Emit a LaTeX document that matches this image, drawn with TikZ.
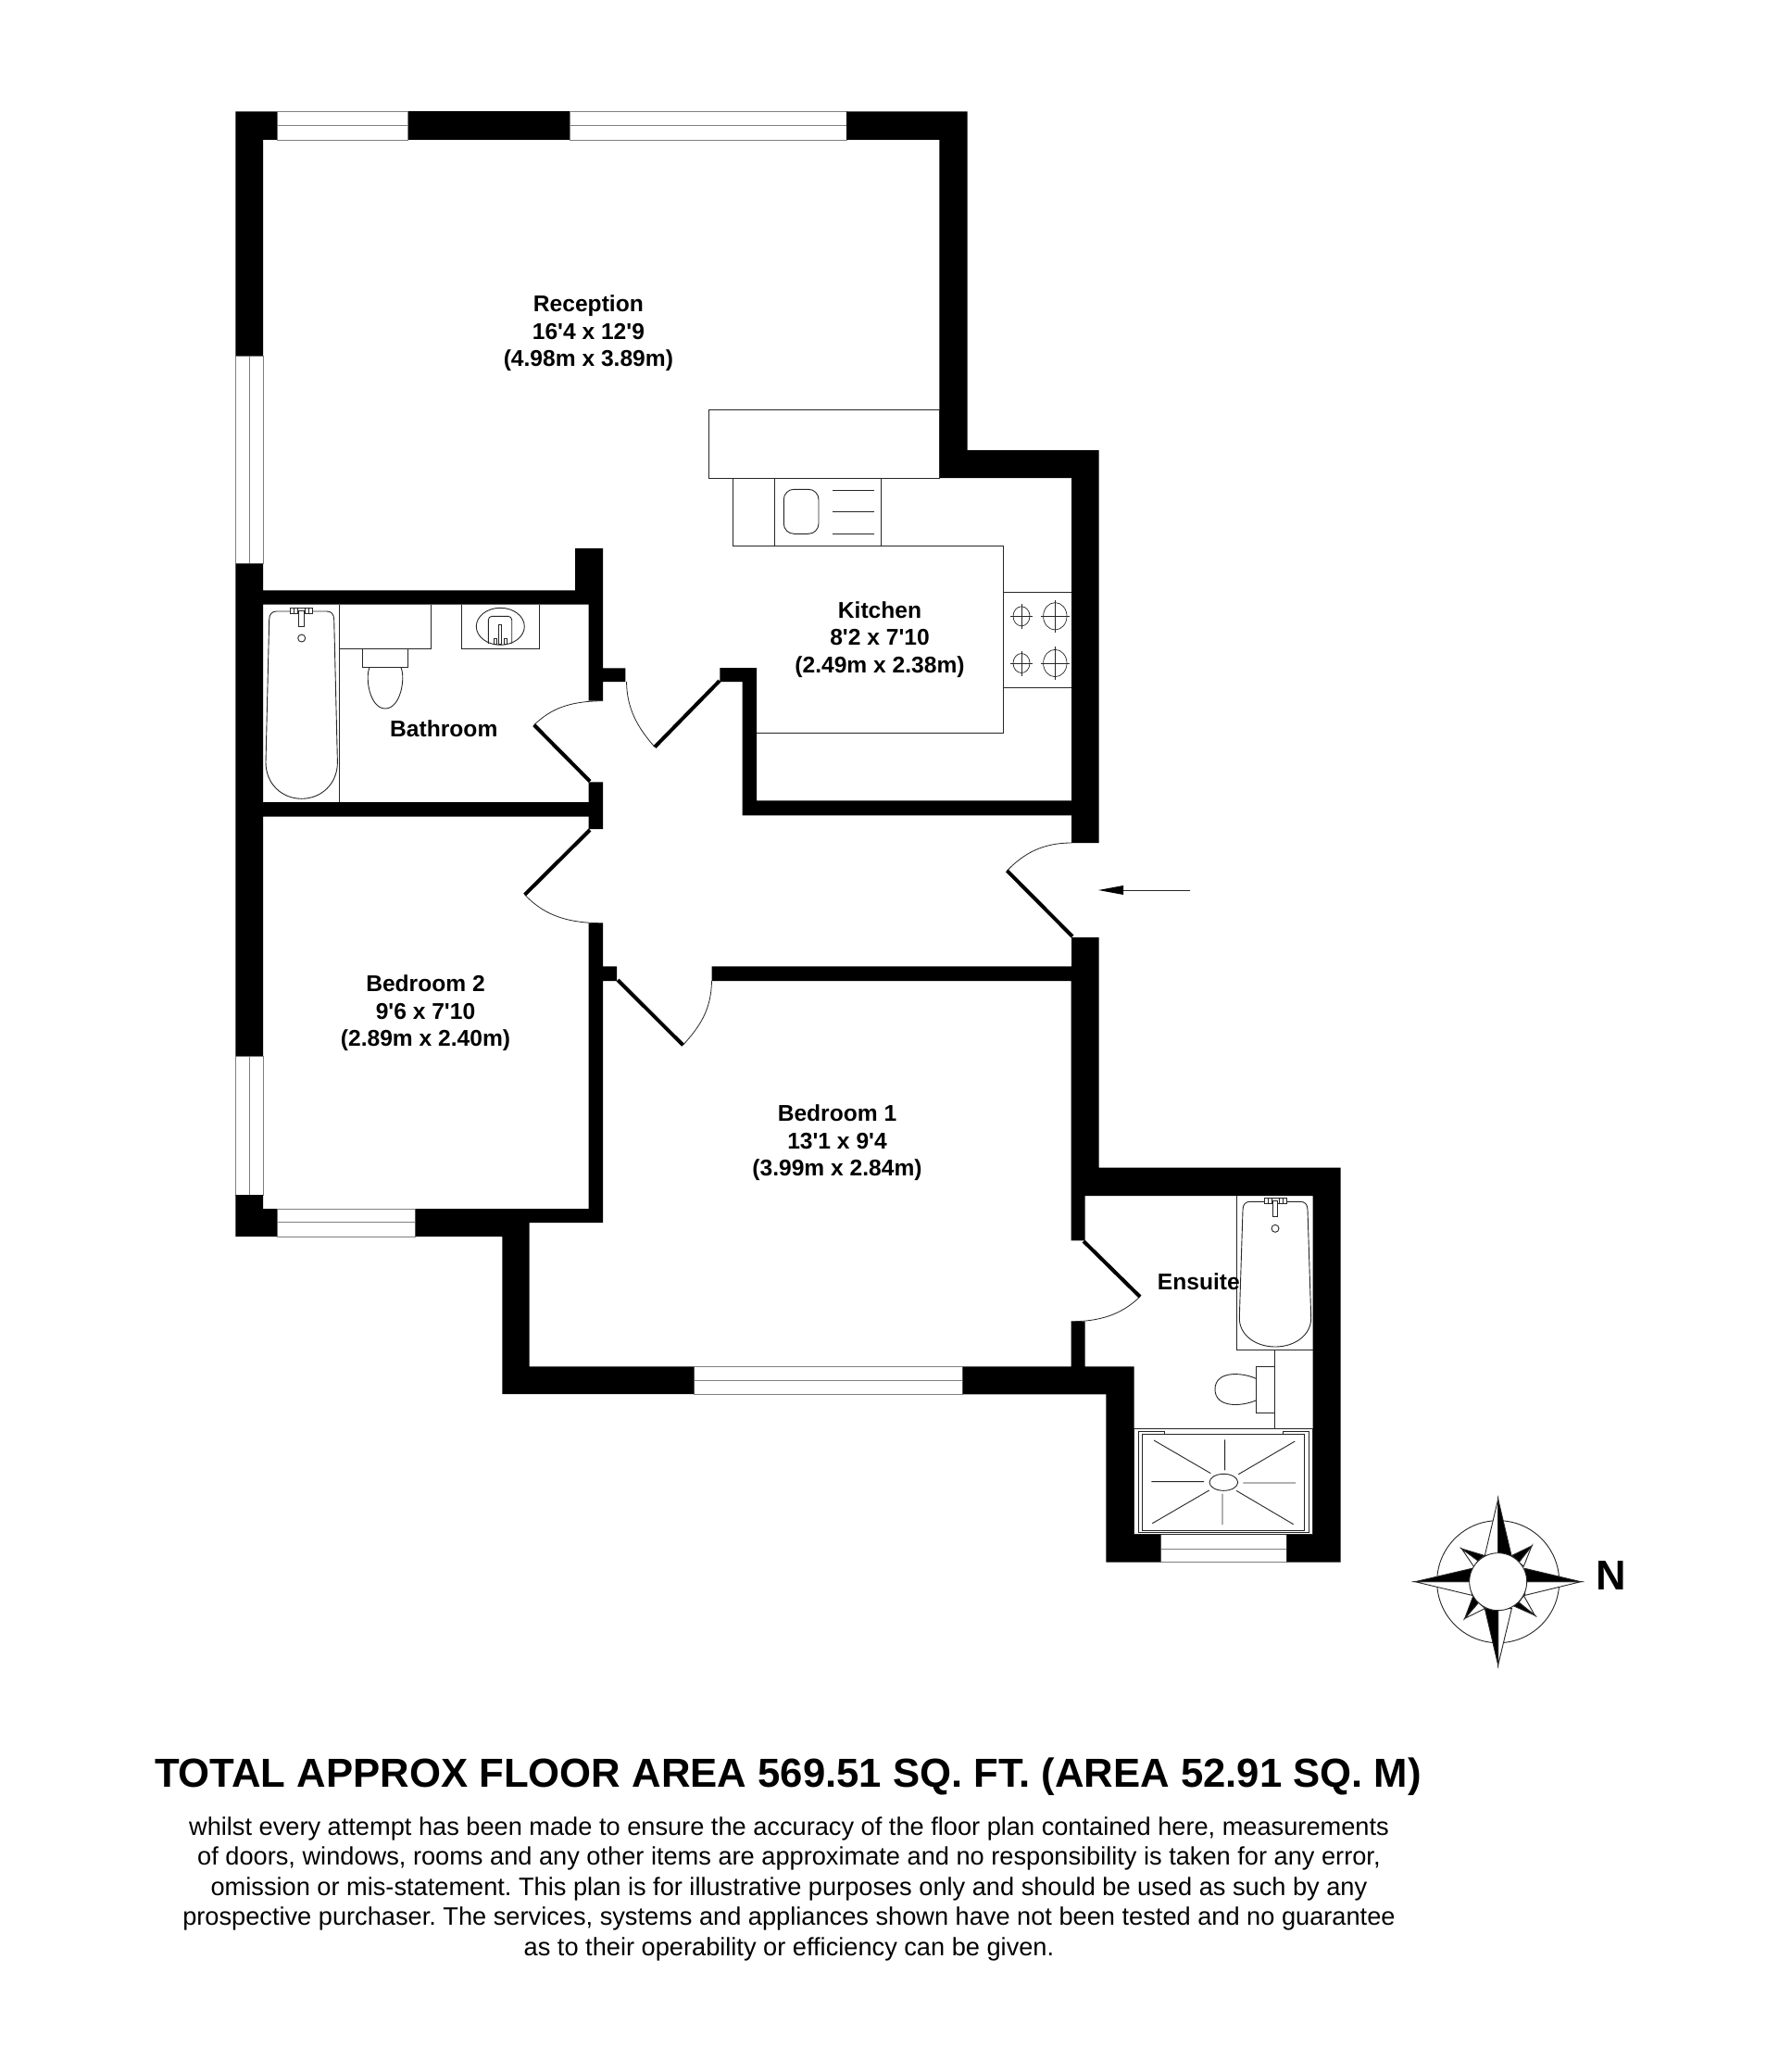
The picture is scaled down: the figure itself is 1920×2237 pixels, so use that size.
\documentclass[tikz,border=0pt]{standalone}
\usepackage{fontspec}
\setmainfont[Ligatures=TeXOff]{Liberation Sans}
\frenchspacing
\tikzset{
  wall/.style={fill=black,draw=none},
  fix/.style={draw=black!85,line width=0.9pt},
  win/.style={fill=white,draw=black!50,line width=0.9pt},
  leaf/.style={draw=black,line width=4pt},
  swing/.style={draw=black!85,line width=0.8pt},
  label/.style={align=center,inner sep=0pt,font=\fontsize{24.6}{29.5}\selectfont\bfseries},
}
\newcommand{\tubfix}[4]{% cx, top, waist, bottom
  \draw[fix] ({#1-27},#2) -- ({#1+27},#2) .. controls ({#1+32},#2) and ({#1+35},{#2+3}) .. ({#1+35},{#2+9})
    -- ({#1+38.7},#3) .. controls ({#1+38.7},{#3+0.6*(#4-#3)}) and ({#1+21},#4) .. ({#1},#4)
    .. controls ({#1-21},#4) and ({#1-38.7},{#3+0.6*(#4-#3)}) .. ({#1-38.7},#3)
    -- ({#1-35},{#2+9}) .. controls ({#1-35},{#2+3}) and ({#1-32},#2) .. ({#1-27},#2) -- cycle;
  \draw[fix,fill=white] ({#1-12},{#2-4}) rectangle ({#1+12},{#2+2.5});
  \draw[fix] ({#1-8},{#2-4}) -- ({#1-8},{#2+2.5}) ({#1-4},{#2-4}) -- ({#1-4},{#2+2.5}) ({#1+4},{#2-4}) -- ({#1+4},{#2+2.5}) ({#1+8},{#2-4}) -- ({#1+8},{#2+2.5});
  \draw[fix,fill=white] ({#1-2.8},{#2-1}) rectangle ({#1+2.8},{#2+16});
  \draw[fix] (#1,{#2+29}) circle (4);
}
\newcommand{\burner}[4]{% cx cy rx ry
  \draw[fix,line width=0.7pt] (#1,#2) ellipse ({#3} and {#4});
  \draw[fix,line width=0.7pt] ({#1-#3-3},#2) -- ({#1+#3+3},#2) (#1,{#2-#4-3}) -- (#1,{#2+#4+3});
}
\begin{document}
\begin{tikzpicture}[x=1pt,y=-1pt]
\useasboundingbox[fill=white] (0,0) rectangle (1920,2237);
% windows
\draw[win] (299.2,120.4) rectangle (440.7,151);
\draw[win] (299.2,135.7) -- (440.7,135.7);
\draw[win] (615.2,120.4) rectangle (914,151);
\draw[win] (615.2,135.7) -- (914,135.7);
\draw[win] (254.4,384) rectangle (284,608.5);
\draw[win] (269.3,384) -- (269.3,608.5);
\draw[win] (254.4,1140) rectangle (284,1290);
\draw[win] (269.3,1140) -- (269.3,1290);
\draw[win] (299.2,1305) rectangle (448.6,1335);
\draw[win] (299.2,1319.7) -- (448.6,1319.7);
\draw[win] (749.3,1475.3) rectangle (1039.6,1505);
\draw[win] (749.3,1490) -- (1039.6,1490);
\draw[win] (1253.3,1656.7) rectangle (1389.3,1686.7);
\draw[win] (1253.3,1672.3) -- (1389.3,1672.3);
% walls
\fill[wall] (254.4,120.4) -- (299.2,120.4) -- (299.2,151) -- (284,151) -- (284,384) -- (254.4,384) -- cycle;
\fill[wall] (440.7,120.4) rectangle (615.2,151);
\fill[wall] (914,120.4) -- (1044.5,120.4) -- (1044.5,486) -- (1186.7,486) -- (1186.7,910) -- (1157,910) -- (1157,516) -- (1014.3,516) -- (1014.3,151) -- (914,151) -- cycle;
\fill[wall] (254.4,608.5) -- (284,608.5) -- (284,637.3) -- (621,637.3) -- (621,592) -- (651,592) -- (651,721.3) -- (675.3,721.3) -- (675.3,736) -- (651,736) -- (651,756.7) -- (635.7,756.7) -- (635.7,652.7) -- (284,652.7) -- (284,866) -- (635.7,866) -- (635.7,844.3) -- (651,844.3) -- (651,895) -- (635.7,895) -- (635.7,881.7) -- (284,881.7) -- (284,1140) -- (254.4,1140) -- cycle;
\fill[wall] (254.4,1290) -- (284,1290) -- (284,1305) -- (299.2,1305) -- (299.2,1335) -- (254.4,1335) -- cycle;
\fill[wall] (448.6,1305) -- (635.7,1305) -- (635.7,996.7) -- (651,996.7) -- (651,1043.3) -- (666.2,1043.3) -- (666.2,1059) -- (651,1059) -- (651,1320) -- (571.7,1320) -- (571.7,1475.3) -- (749.3,1475.3) -- (749.3,1505) -- (542.3,1505) -- (542.3,1335) -- (448.6,1335) -- cycle;
\fill[wall] (777.3,721) -- (817,721) -- (817,864.3) -- (1157,864.3) -- (1157,880.3) -- (801.7,880.3) -- (801.7,736) -- (777.3,736) -- cycle;
\fill[wall] (768.5,1043.3) -- (1157,1043.3) -- (1157,1012) -- (1186.7,1012) -- (1186.7,1260.7) -- (1447.7,1260.7) -- (1447.7,1686.7) -- (1389.3,1686.7) -- (1389.3,1656.7) -- (1417.7,1656.7) -- (1417.7,1291) -- (1171.7,1291) -- (1171.7,1339.3) -- (1156.7,1339.3) -- (1156.7,1059) -- (768.5,1059) -- cycle;
\fill[wall] (1156.7,1426.7) -- (1171.7,1426.7) -- (1171.7,1475.3) -- (1224.7,1475.3) -- (1224.7,1656.7) -- (1253.3,1656.7) -- (1253.3,1686.7) -- (1194.3,1686.7) -- (1194.3,1505.3) -- (1039.6,1505.3) -- (1039.6,1475.3) -- (1156.7,1475.3) -- cycle;
% doors
\draw[leaf] (637,843.5) -- (576.7,782.7);
\draw[swing] (576.7,782.7) .. controls (595,765) and (615,757) .. (651,756.7);
\draw[leaf] (637,896) -- (566.6,966);
\draw[swing] (566.6,966) .. controls (585,985) and (607,996.7) .. (651,996.7);
\draw[leaf] (777,735) -- (707,806.5);
\draw[swing] (707,806.5) .. controls (688,785) and (677,765) .. (676.5,736);
\draw[leaf] (667,1058) -- (737.5,1128.3);
\draw[swing] (737.5,1128.3) .. controls (756,1108) and (768,1090) .. (768.5,1059);
\draw[leaf] (1158,1011) -- (1087.4,940);
\draw[swing] (1087.4,940) .. controls (1105,922) and (1125,910) .. (1157,910);
\draw[leaf] (1170,1340) -- (1231,1400);
\draw[swing] (1231,1400) .. controls (1215,1415) and (1195,1426.7) .. (1156.7,1426.7);
% entrance arrow
\coordinate (entryfrom) at (1285,961);
\coordinate (entryto) at (1186,961);
\draw[fix] (entryfrom) -- (1213,961);
\fill[black] (entryto) -- (1213,956) -- (1213,966) -- cycle;
% kitchen fittings
\draw[fix] (765,442.7) rectangle (1014.3,516);
\draw[fix] (791.7,516) rectangle (836,589.3);
\draw[fix] (836,516) rectangle (951.3,589.3);
\draw[fix,rounded corners=11pt] (846.3,528.3) rectangle (884,576.3);
\draw[fix] (899,529) -- (943.7,529) (899,552.7) -- (943.7,552.7) (899,576) -- (943.7,576);
\draw[fix] (951.3,589.3) -- (1083.7,589.3) -- (1083.7,791.7) -- (817,791.7);
\draw[fix] (1083.7,639.3) -- (1156.7,639.3) (1083.7,742) -- (1156.7,742);
\burner{1103}{665.3}{9}{10.5}
\burner{1139.3}{665.3}{12.7}{14.7}
\burner{1103}{716}{9}{10.5}
\burner{1139.3}{716}{12.7}{14.7}
% bathroom fittings
\draw[fix] (366.7,652.7) -- (366.7,866);
\tubfix{325.7}{660}{823}{862.3}
\draw[fix] (366.7,700.3) -- (465.3,700.3) -- (465.3,652.7);
\draw[fix] (391.3,700.3) rectangle (440.3,720.7);
\draw[fix] (399,720.7) .. controls (394,732) and (399.3,765) .. (416,765) .. controls (432.7,765) and (438,732) .. (433,720.7);
\draw[fix] (498.3,652.7) -- (498.3,700.3) -- (582,700.3) -- (582,652.7);
\draw[fix] (540.3,676.3) ellipse (26 and 20);
\draw[fix,rounded corners=4pt] (527.3,695) -- (527.3,665.3) -- (552.7,665.3) -- (552.7,695);
\draw[fix,fill=white] (538.5,674) rectangle (541.5,695);
\draw[fix,fill=white] (533.5,689) rectangle (536.5,695);
\draw[fix,fill=white] (544,689) rectangle (547,695);
% ensuite fittings
\draw[fix] (1335.3,1291) -- (1335.3,1457.7) -- (1417.7,1457.7);
\tubfix{1377}{1297.3}{1423}{1454}
\draw[fix] (1376.7,1457.7) -- (1376.7,1542.7);
\draw[fix] (1376.7,1475.7) -- (1356.7,1475.7) -- (1356.7,1525) -- (1376.7,1525);
\draw[fix] (1356.7,1488.5) .. controls (1340,1481) and (1312,1480) .. (1312,1500) .. controls (1312,1520) and (1340,1519) .. (1356.7,1511.7);
\begin{scope}[shift={(1130,1240)},x=1pt/3,y=-1pt/3]
\draw[fix] (284.5,908) rectangle (863,1250);
\draw[fix] (310,926) rectangle (836,1238);
\draw[fix] (383,926) -- (383,916) -- (297,916) -- (297,1244) -- (851,1244) -- (851,916) -- (765,916) -- (765,926);
\draw[fix] (574,1081) ellipse (46 and 27);
\draw[fix] (348,945) -- (532,1052) (578,943) -- (578,1042) (805,948) -- (622,1055)
  (340,1079) -- (510,1079) (637,1083) -- (807,1083)
  (343,1214) -- (527,1107) (570,1118) -- (570,1218) (615,1108) -- (800,1217);
\end{scope}
% compass
\begin{scope}[shift={(1490,1590)},x=1pt/3,y=-1pt/3]
\draw[fix] (383,353) circle (198);
\filldraw[fix,fill=white] (383,85) -- (340,268) -- (383,268) -- cycle;
\filldraw[fix,fill=black] (383,85) -- (426,268) -- (383,268) -- cycle;
\filldraw[fix,fill=white] (383,623) -- (427,440) -- (383,440) -- cycle;
\filldraw[fix,fill=black] (383,623) -- (340,440) -- (383,440) -- cycle;
\filldraw[fix,fill=white] (651,353) -- (470,397) -- (470,353) -- cycle;
\filldraw[fix,fill=black] (651,353) -- (470,310) -- (470,353) -- cycle;
\filldraw[fix,fill=white] (114,353) -- (298,397) -- (298,353) -- cycle;
\filldraw[fix,fill=black] (114,353) -- (298,310) -- (298,353) -- cycle;
\filldraw[fix,fill=white] (492,237) -- (466,303) -- (450,290) -- cycle;
\filldraw[fix,fill=black] (492,237) -- (428,268) -- (450,290) -- cycle;
\filldraw[fix,fill=white] (265,246) -- (305,305) -- (318,285) -- cycle;
\filldraw[fix,fill=black] (265,246) -- (338,268) -- (318,285) -- cycle;
\filldraw[fix,fill=white] (502,462) -- (466,398) -- (450,420) -- cycle;
\filldraw[fix,fill=black] (502,462) -- (430,430) -- (450,420) -- cycle;
\filldraw[fix,fill=white] (275,472) -- (340,440) -- (320,420) -- cycle;
\filldraw[fix,fill=black] (275,472) -- (302,400) -- (320,420) -- cycle;
\filldraw[fix,fill=white] (383,353) circle (93);
\end{scope}
\node[anchor=base,inner sep=0pt,font=\fontsize{45}{45}\selectfont\bfseries] (north) at (1740,1716.7) {N};
% room labels
\node[label] (reception) at (635.4,360) {Reception\\16'4 x 12'9\\(4.98m x 3.89m)};
\node[label] (kitchen) at (950,690.5) {Kitchen\\8'2 x 7'10\\(2.49m x 2.38m)};
\node[label] (bathroom) at (479.3,786.7) {Bathroom};
\node[label] (bedtwo) at (459.5,1094) {Bedroom 2\\9'6 x 7'10\\(2.89m x 2.40m)};
\node[label] (bedone) at (904,1234) {Bedroom 1\\13'1 x 9'4\\(3.99m x 2.84m)};
\node[label] (ensuite) at (1294.3,1383.3) {Ensuite};
% footer
\node[anchor=base,inner sep=0pt,font=\fontsize{43.7}{45}\selectfont\bfseries] (total) at (851,1929.3) {TOTAL APPROX FLOOR AREA 569.51 SQ. FT. (AREA 52.91 SQ. M)};
\node[anchor=north,inner sep=0pt,align=center,font=\fontsize{27.2}{32.5}\selectfont] (disclaimer) at (852,1961.5) {whilst every attempt has been made to ensure the accuracy of the floor plan contained here, measurements\\of doors, windows, rooms and any other items are approximate and no responsibility is taken for any error,\\omission or mis-statement. This plan is for illustrative purposes only and should be used as such by any\\prospective purchaser. The services, systems and appliances shown have not been tested and no guarantee\\as to their operability or efficiency can be given.};
\end{tikzpicture}
\end{document}
